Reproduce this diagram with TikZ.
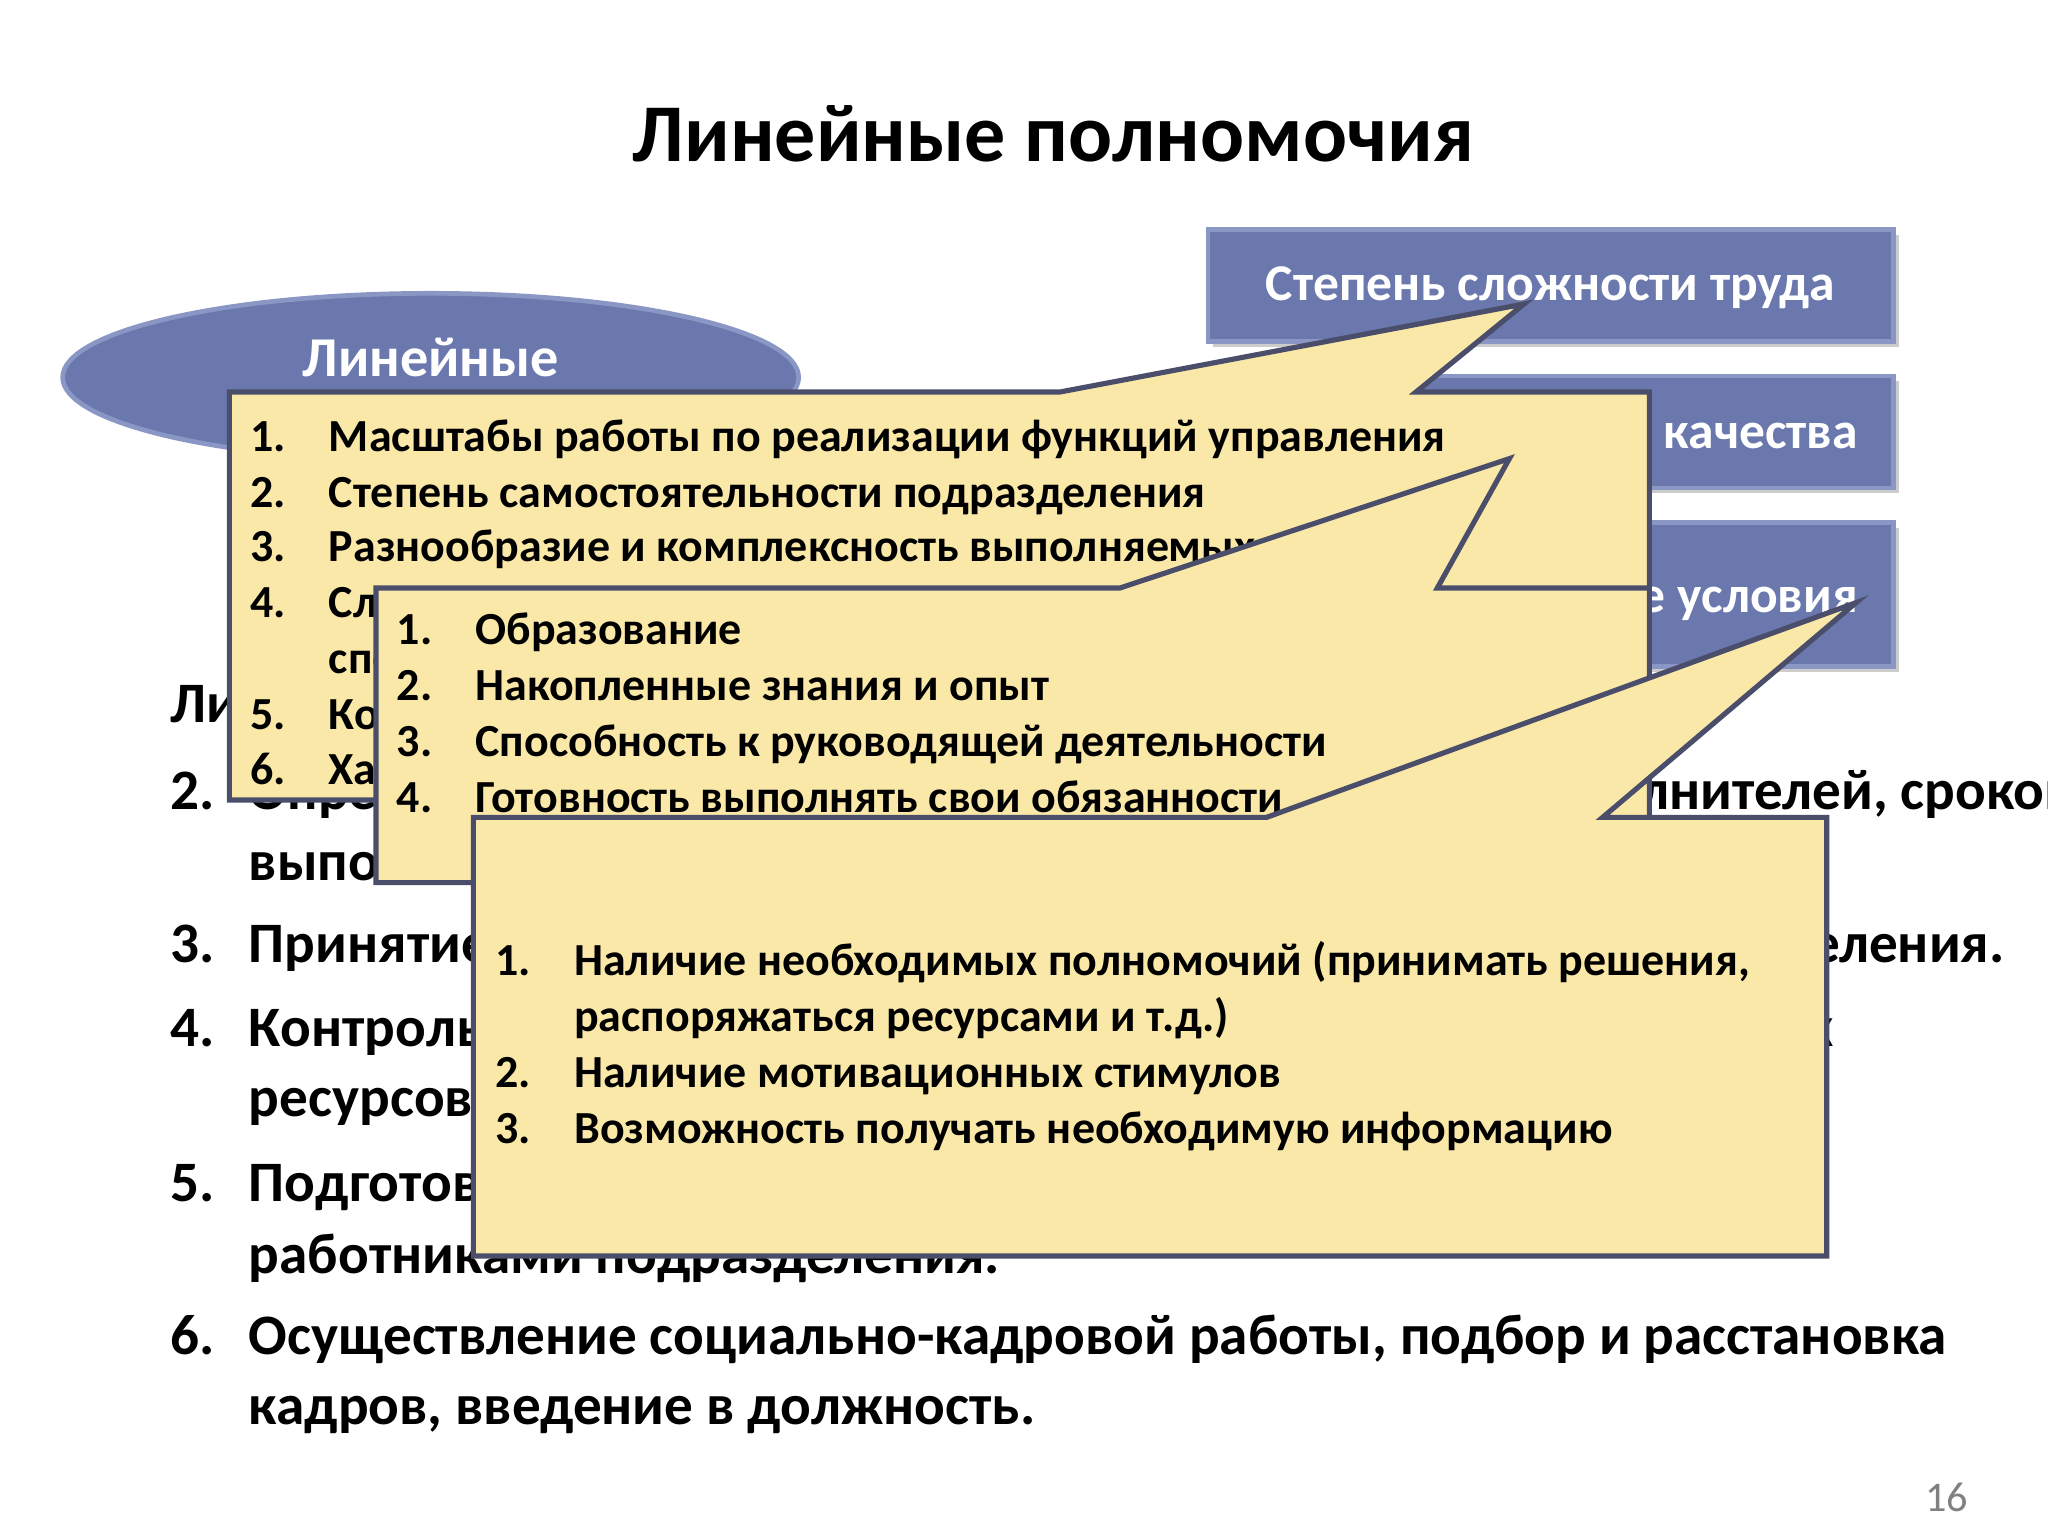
\documentclass[tikz,border=0pt]{standalone}
\usepackage{fontspec}
\setmainfont{Carlito}
\definecolor{callfill}{HTML}{FAE8A8}
\definecolor{calldraw}{HTML}{4A4E6A}
\definecolor{boxblue}{HTML}{6A78AE}
\definecolor{boxedge}{HTML}{8A96C4}
\tikzset{
 callout/.style={fill=callfill,draw=calldraw,line width=1.1pt,line join=miter},
 bluebox/.style={fill=boxblue,draw=boxedge,line width=1pt},
 num/.style={anchor=base west,font=\bfseries\fontsize{9.8}{12}\selectfont,inner sep=0,yshift=-3.5pt},
 itm/.style={anchor=base west,font=\bfseries\fontsize{9.8}{12}\selectfont,inner sep=0,yshift=-3.5pt},
 big/.style={anchor=base west,font=\bfseries\fontsize{12.2}{14}\selectfont,inner sep=0,yshift=-4.3pt},
 wtxt/.style={text=white,font=\bfseries\fontsize{11}{13}\selectfont,inner sep=0}
}
\begin{document}
\begin{tikzpicture}[x=0.01cm,y=-0.01cm]
\useasboundingbox (0,0) rectangle (1536,1152);
\node[font=\bfseries\fontsize{17.5}{21}\selectfont] (title) at (790,100) {Линейные полномочия};
% ellipse
\fill[boxblue,draw=boxedge,line width=1pt] (323,283) ellipse [x radius=276,y radius=63];
\node[wtxt,font=\bfseries\fontsize{12}{14}\selectfont] (ellt) at (323,268) {Линейные};
\node[wtxt,font=\bfseries\fontsize{12}{14}\selectfont] (ellt2) at (323,308) {руководители};
% blue boxes
\fill[gray!40] (910,176) rectangle (1424,260);
\fill[gray!40] (910,286) rectangle (1424,370);
\fill[gray!40] (910,396) rectangle (1424,504);
\draw[bluebox] (906,172) rectangle (1420,256);
\draw[bluebox] (906,282) rectangle (1420,366);
\draw[bluebox] (906,392) rectangle (1420,500);
\node[wtxt] (b1) at (1163,216) {Степень сложности труда};
\node[wtxt,anchor=east] (b2) at (1394,326) {Уровень требований качества};
\node[wtxt,anchor=east] (b3) at (1394,450) {Организационные условия};
% main list
\node[big] (m1) at (127,527) {Линейные полномочия включают:};
\node[big] (n2) at (127,592) {2.}; \node[big] (t2) at (186,592) {Определение задач, распределение обязанностей исполнителей,  сроков};
\node[big] (t2b) at (186,645) {выполнения работ.};
\node[big] (n3) at (127,707) {3.}; \node[big] (t3) at (186,707) {Принятие решений по вопросам деятельности своего подразделения.};
\node[big] (n4) at (127,770) {4.}; \node[big] (t4) at (186,770) {Контроль за выполнением заданий, использованием трудовых};
\node[big] (t4b) at (186,822) {ресурсов.};
\node[big] (n5) at (127,886) {5.}; \node[big] (t5) at (186,886) {Подготовка и принятие решений совместно с};
\node[big] (t5b) at (186,940) {работниками  подразделения.};
\node[big] (n6) at (127,1001) {6.}; \node[big] (t6) at (186,1001) {Осуществление социально-кадровой работы, подбор и расстановка};
\node[big] (t6b) at (186,1053) {кадров, введение в должность.};
% callout 1
\draw[callout] (172,294) -- (795,294) -- (1143,228) -- (1062,294) -- (1237,294) -- (1237,600) -- (172,600) -- cycle;
\node[num] at (187,326) {1.}; \node[itm] at (246,326) {Масштабы работы по реализации функций управления};
\node[num] at (187,368) {2.}; \node[itm] at (246,368) {Степень самостоятельности  подразделения};
\node[num] at (187,409) {3.}; \node[itm] at (246,409) {Разнообразие  и комплексность выполняемых работ};
\node[num] at (187,451) {4.}; \node[itm] at (246,451) {Сложность руководства подчинёнными};
\node[itm] at (246,493) {специалистами};
\node[num] at (187,535) {5.}; \node[itm] at (246,535) {Количество подчинённых};
\node[num] at (187,576) {6.}; \node[itm] at (246,576) {Характер выполняемых работ};
% callout 2
\draw[callout] (282,441) -- (840,441) -- (1132,344) -- (1078,441) -- (1237,441) -- (1237,662) -- (282,662) -- cycle;
\node[num] at (297,471) {1.}; \node[itm] at (356,471) {Образование};
\node[num] at (297,513) {2.}; \node[itm] at (356,513) {Накопленные знания и опыт};
\node[num] at (297,555) {3.}; \node[itm] at (356,555) {Способность к руководящей деятельности};
\node[num] at (297,597) {4.}; \node[itm] at (356,597) {Готовность выполнять свои обязанности};
% callout 3
\draw[callout] (355,613) -- (950,613) -- (1392,452) -- (1202,613) -- (1370,613) -- (1370,942) -- (355,942) -- cycle;
\node[num] at (371,719) {1.}; \node[itm] at (430,719) {Наличие необходимых полномочий (принимать решения,};
\node[itm] at (430,761) {распоряжаться ресурсами  и т.д.)};
\node[num] at (371,803) {2.}; \node[itm] at (430,803) {Наличие мотивационных стимулов};
\node[num] at (371,845) {3.}; \node[itm] at (430,845) {Возможность получать необходимую информацию};
\node[text=gray,font=\fontsize{9}{11}\selectfont] (pg) at (1460,1123) {16};
\end{tikzpicture}
\end{document}
